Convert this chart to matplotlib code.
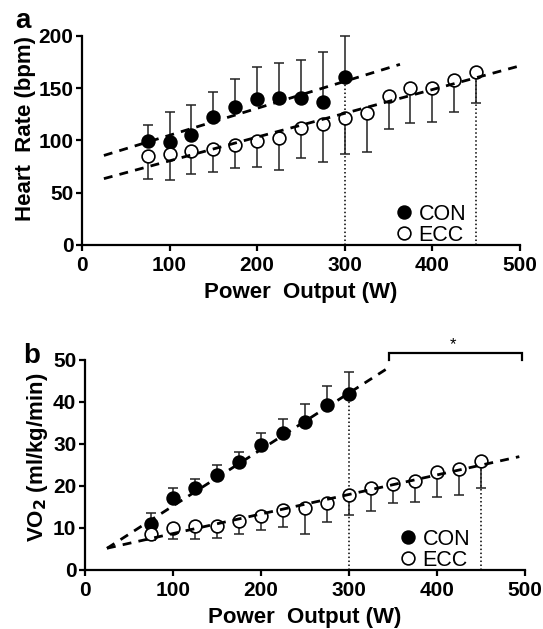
import numpy as np
import matplotlib
matplotlib.use("Agg")
import matplotlib.pyplot as plt
from matplotlib.lines import Line2D

plt.rcParams['font.family'] = ['Liberation Sans', 'DejaVu Sans']

# ---------------- data ----------------
power_con = [75, 100, 125, 150, 175, 200, 225, 250, 275, 300]
power_ecc = [75, 100, 125, 150, 175, 200, 225, 250, 275, 300, 325, 350, 375, 400, 425, 450]

hr_con = [99.5, 99, 105.6, 122.6, 132.5, 139.5, 140.2, 140.8, 137.3, 161]
hr_con_sd = [15, 28, 28, 24, 26, 31, 34, 36, 47, 39]
hr_ecc = [84.8, 87, 90.2, 91.5, 95.7, 99.8, 102, 112.3, 115.5, 121.6, 126.7, 142.7, 149.8, 150.7, 157.8, 165.1]
hr_ecc_sd = [22, 25, 22, 22, 22, 25, 30, 29, 36.5, 35, 38, 32, 33, 33, 31, 29]

vo2_con = [10.9, 17.1, 19.5, 22.6, 25.7, 29.7, 32.7, 35.2, 39.3, 41.9]
vo2_con_sd = [2.7, 2.4, 2.1, 2.4, 2.5, 2.9, 3.3, 4.4, 4.4, 5.3]
vo2_ecc = [8.5, 9.9, 10.4, 10.5, 11.6, 12.8, 14.4, 14.7, 16.0, 17.9, 19.5, 20.4, 21.2, 23.4, 24.1, 25.9]
vo2_ecc_sd = [1.3, 2.6, 3.0, 3.0, 3.1, 3.2, 4.2, 6.1, 4.5, 4.7, 5.5, 4.5, 4.9, 6.1, 6.2, 6.4]

# regression fits: (slope, intercept, x_start, x_end)
hr_fit_con = (0.258, 79.2, 25, 363)
hr_fit_ecc = (0.2273, 57.8, 25, 500)
vo2_fit_con = (0.1343, 1.8, 25, 344)
vo2_fit_ecc = (0.0465, 4.02, 25, 494)

# peak power markers (dotted verticals)
peak_power = [300, 450]
hr_peak = [161, 165.1]
vo2_peak = [41.9, 25.9]

# significance bracket (x range, level)
sig_range = [346, 497]
sig_level = 51.6

xticks = [0, 100, 200, 300, 400, 500]
hr_ticks = [0, 50, 100, 150, 200]
vo2_ticks = [0, 10, 20, 30, 40, 50]

# ---------------- plotting ----------------
fig = plt.figure(figsize=(5.43, 6.29), dpi=100)
ax1 = fig.add_axes([0.1510, 0.6105, 0.8066, 0.3323])
ax2 = fig.add_axes([0.1565, 0.0938, 0.8096, 0.3339])

ms = 9.2
tick_fs = 15
lab_fs = 16


def draw(ax, y_con, sd_con, y_ecc, sd_ecc, fit_con, fit_ecc, peaks, ylim, yticks):
    pc = np.array(power_con)
    pe = np.array(power_ecc)
    yc = np.array(y_con)
    ye = np.array(y_ecc)
    # dotted verticals
    for p, v in zip(peak_power, peaks):
        ax.plot([p, p], [0, v], color='black', lw=1.1, linestyle=(0, (1, 1.6)), zorder=1)
    # error bars: CON upward, ECC downward
    ax.errorbar(pc, yc, yerr=[np.zeros_like(yc), np.array(sd_con)], fmt='none',
                ecolor='#222222', elinewidth=1.1, capsize=3.6, capthick=1.1, zorder=2,
                clip_on=False)
    ax.errorbar(pe, ye, yerr=[np.array(sd_ecc), np.zeros_like(ye)], fmt='none',
                ecolor='#222222', elinewidth=1.1, capsize=3.6, capthick=1.1, zorder=2,
                clip_on=False)
    ax.plot(pc, yc, 'o', ms=ms, mfc='black', mec='black', mew=1.2, zorder=3, clip_on=False)
    ax.plot(pe, ye, 'o', ms=ms, mfc='white', mec='black', mew=1.2, zorder=3, clip_on=False)
    for s, b, x0, x1 in (fit_con, fit_ecc):
        xx = np.array([x0, x1])
        ax.plot(xx, s * xx + b, color='black', lw=2.0, linestyle=(0, (3.2, 2.6)), zorder=4,
                clip_on=False)
    ax.set_xlim(0, 500)
    ax.set_ylim(*ylim)
    ax.set_xticks(xticks)
    ax.set_yticks(yticks)
    for side in ('top', 'right'):
        ax.spines[side].set_visible(False)
    for side in ('left', 'bottom'):
        ax.spines[side].set_linewidth(1.6)
    ax.tick_params(axis='both', width=1.6, length=4.2, labelsize=tick_fs, pad=2.0)
    ax.tick_params(axis='x', pad=3.5)
    for lab in ax.get_xticklabels() + ax.get_yticklabels():
        lab.set_fontweight('bold')
    ax.set_xlabel('Power  Output (W)', fontsize=lab_fs, fontweight='bold', labelpad=5)
    handles = [Line2D([], [], marker='o', ls='none', ms=ms, mfc='black', mec='black', mew=1.2),
               Line2D([], [], marker='o', ls='none', ms=ms, mfc='white', mec='black', mew=1.2)]
    ax.legend(handles, ['CON', 'ECC'], loc='lower left', bbox_to_anchor=(0.68, -0.075),
              frameon=False, handlelength=0.8, handletextpad=0.3, labelspacing=0.0,
              prop={'size': 15.5}, borderpad=0.2)


draw(ax1, hr_con, hr_con_sd, hr_ecc, hr_ecc_sd, hr_fit_con, hr_fit_ecc, hr_peak,
     (0, 200), hr_ticks)
draw(ax2, vo2_con, vo2_con_sd, vo2_ecc, vo2_ecc_sd, vo2_fit_con, vo2_fit_ecc, vo2_peak,
     (0, 50), vo2_ticks)

ax1.set_ylabel('Heart  Rate (bpm)', fontsize=lab_fs, fontweight='bold', labelpad=2)
ax2.set_ylabel('VO$_\\mathbf{2}$ (ml/kg/min)', fontsize=lab_fs, fontweight='bold', labelpad=2)
ax1.yaxis.label.set_y(0.555)
ax2.yaxis.label.set_y(0.535)

# significance bracket
ax2.plot([sig_range[0], sig_range[0], sig_range[1], sig_range[1]],
         [50, sig_level, sig_level, 50], color='black', lw=1.6, clip_on=False,
         solid_joinstyle='miter')
ax2.text(np.mean(sig_range) - 3, sig_level + 0.2, '*', ha='center', va='bottom', fontsize=12)

fig.text(0.028, 0.955, 'a', fontsize=20, fontweight='bold', va='baseline')
fig.text(0.042, 0.423, 'b', fontsize=20, fontweight='bold', va='baseline')

fig.savefig('out.png', dpi=100)
